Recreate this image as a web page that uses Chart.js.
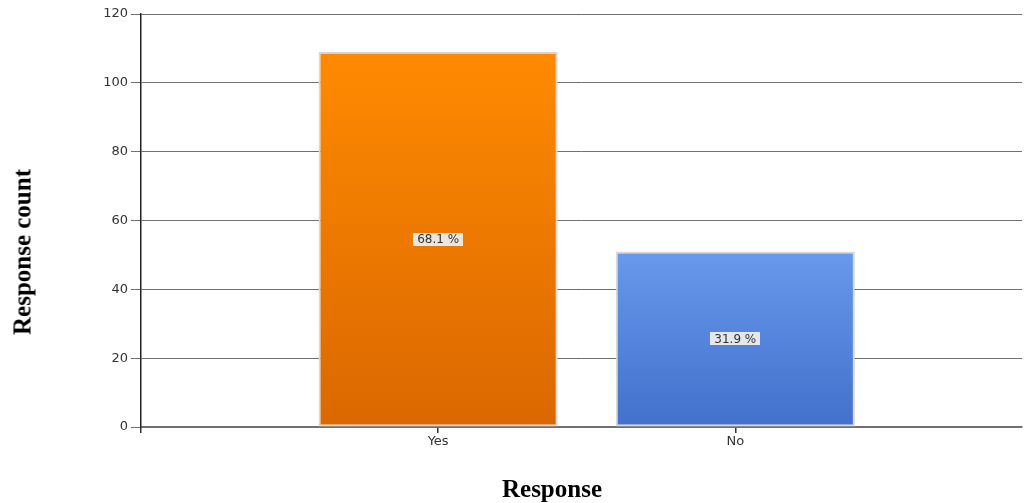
<!DOCTYPE html>
<html>
<head>
<meta charset="utf-8">
<script src="https://cdn.jsdelivr.net/npm/chart.js@4/dist/chart.umd.min.js"></script>
<style>
  html, body { margin: 0; padding: 0; background: #ffffff; }
  #wrap { position: relative; width: 1024px; height: 503px; overflow: hidden; }
  #chart { position: absolute; left: 0; top: 0; }
  .axis-title {
    position: absolute;
    font-family: "Liberation Serif", "Times New Roman", serif;
    font-weight: bold;
    font-size: 25px;
    color: #000;
    white-space: nowrap;
    line-height: 1;
  }
  #xTitle { left: 552px; top: 488px; transform: translate(-50%, -50%); }
  #yTitle { left: 22px; top: 252px; transform: translate(-50%, -50%) rotate(-90deg); }
</style>
</head>
<body>
<div id="wrap">
  <canvas id="chart" width="1024" height="503"></canvas>
  <div class="axis-title" id="xTitle">Response</div>
  <div class="axis-title" id="yTitle">Response count</div>
</div>
<script>
// Survey answers and their counts
const categories = ['Yes', 'No'];
const counts = [109, 51];
const shares = ['68.1 %', '31.9 %'];
const yTicks = [0, 20, 40, 60, 80, 100, 120];

// Vertical gradient stops for each bar (top, bottom)
const barTop = ['#FF8A00', '#6799EC'];
const barBottom = ['#DA6800', '#4270CB'];

const FONT = '"DejaVu Sans", Verdana, sans-serif';

function barFill(ctx) {
  const i = ctx.dataIndex;
  const chart = ctx.chart;
  const y = chart.scales && chart.scales.y;
  if (!chart.chartArea || !y || i === undefined) return barTop[i || 0];
  const top = y.getPixelForValue(counts[i]);
  const bottom = y.getPixelForValue(0);
  const g = chart.ctx.createLinearGradient(0, top, 0, bottom);
  g.addColorStop(0, barTop[i]);
  g.addColorStop(1, barBottom[i]);
  return g;
}

// Share labels in small grey boxes at the middle of each bar
const shareLabels = {
  id: 'shareLabels',
  afterDatasetsDraw(chart) {
    const c = chart.ctx;
    const meta = chart.getDatasetMeta(0);
    c.save();
    c.font = '12px ' + FONT;
    c.textAlign = 'center';
    c.textBaseline = 'middle';
    meta.data.forEach((el, i) => {
      const cx = el.x;
      const cy = (el.y + el.base) / 2;
      const text = shares[i];
      const w = c.measureText(text).width + 8;
      const h = 13;
      c.fillStyle = 'rgba(236,236,236,0.95)';
      c.fillRect(Math.round(cx - w / 2), Math.round(cy - h / 2), Math.round(w), h);
      c.fillStyle = '#333333';
      c.fillText(text, cx, cy + 0.5);
    });
    c.restore();
  }
};

new Chart(document.getElementById('chart'), {
  type: 'bar',
  data: {
    datasets: [{
      data: categories.map((c, i) => ({ x: i + 1, y: counts[i] })),
      backgroundColor: barFill,
      borderColor: '#D8D8D8',
      borderWidth: 2,
      borderSkipped: false,
      barPercentage: 0.805,
      categoryPercentage: 1.0
    }]
  },
  options: {
    responsive: false,
    devicePixelRatio: 1,
    animation: false,
    layout: { padding: { top: 14, right: 2, left: 0, bottom: 0 } },
    plugins: {
      legend: { display: false },
      tooltip: { enabled: false },
      title: { display: false }
    },
    scales: {
      x: {
        type: 'linear',
        min: 0,
        max: 2.965,
        offset: false,
        grid: {
          display: true,
          offset: false,
          drawOnChartArea: false,
          drawTicks: true,
          tickLength: 6,
          lineWidth: 1.5,
          color: '#333333'
        },
        border: { display: true, color: '#707070', width: 1.5 },
        ticks: {
          stepSize: 1,
          includeBounds: false,
          autoSkip: false,
          maxRotation: 0,
          padding: 1,
          color: '#333333',
          font: { family: FONT, size: 13 },
          callback: (v) => categories[v - 1] || ''
        },
        afterFit: (s) => { s.height = 76; }
      },
      y: {
        min: 0,
        max: 120,
        afterBuildTicks: (s) => { s.ticks = yTicks.map(v => ({ value: v })); },
        grid: {
          color: '#707070',
          lineWidth: 1,
          tickLength: 10
        },
        border: { display: true, color: '#222222', width: 1.5 },
        ticks: {
          padding: 3,
          color: '#333333',
          font: { family: FONT, size: 13 }
        },
        afterFit: (s) => { s.width = 141; }
      }
    }
  },
  plugins: [shareLabels]
});
</script>
</body>
</html>
